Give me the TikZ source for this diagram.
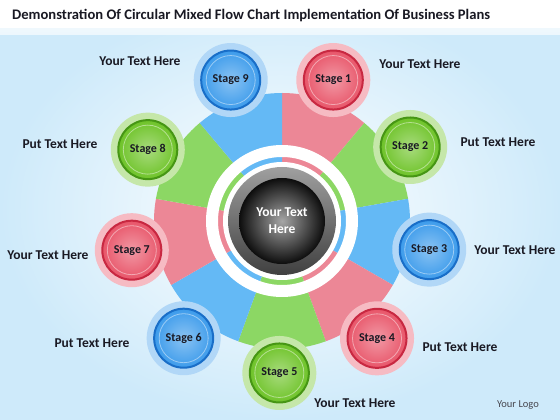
\documentclass[tikz,border=0pt]{standalone}
\usepackage{fontspec}
\setmainfont{Carlito}
\usetikzlibrary{shapes}

\definecolor{bg_blue}{RGB}{206,234,250}
\definecolor{r_dark}{RGB}{200,40,65}
\definecolor{r_mid}{RGB}{232,85,105}
\definecolor{r_wedge}{RGB}{236,135,150}
\definecolor{g_dark}{RGB}{70,150,20}
\definecolor{g_mid}{RGB}{110,195,40}
\definecolor{g_wedge}{RGB}{140,215,100}
\definecolor{b_dark}{RGB}{25,110,200}
\definecolor{b_mid}{RGB}{60,155,235}
\definecolor{b_wedge}{RGB}{100,185,245}
\definecolor{txt_dark}{RGB}{25,25,35}

\tikzset{
	stagenode/.style = {
		circle,
		inner sep=0pt,
		minimum size=59pt,
		line width=2pt,
		text=txt_dark,
		font=\bfseries\fontsize{12}{14}\selectfont,
		path picture={
			\draw[white, opacity=0.45, line width=0.8pt]
				(path picture bounding box.center) circle[radius=24.5pt];
		}
	},
	node_r/.style = {
		stagenode,
		draw=r_dark,
		inner color=r_mid!60!white,
		outer color=r_mid
	},
	node_g/.style = {
		stagenode,
		draw=g_dark,
		inner color=g_mid!60!white,
		outer color=g_mid
	},
	node_b/.style = {
		stagenode,
		draw=b_dark,
		inner color=b_mid!60!white,
		outer color=b_mid
	},
	halo_r/.style = {fill=r_mid!40!white},
	halo_g/.style = {fill=g_mid!40!white},
	halo_b/.style = {fill=b_mid!40!white},
	labelnode/.style = {
		inner sep=0pt,
		text=txt_dark,
		font=\bfseries\fontsize{13.5}{16}\selectfont
	},
}

\begin{document}
\begin{tikzpicture}[x=1pt,y=1pt]
\useasboundingbox (0,0) rectangle (560,420);
% background
\shade[inner color=white, outer color=bg_blue] (0,0) rectangle (560,420);
\shade[top color=white, bottom color=white!60!bg_blue] (0,385) rectangle (560,420);
\fill[white] (0,392) rectangle (560,420);

\node[anchor=west, inner sep=0pt, text=txt_dark, font=\bfseries\fontsize{14.6}{17}\selectfont]
	(title) at (12,404) {Demonstration Of Circular Mixed Flow Chart Implementation Of Business Plans};

\begin{scope}[shift={(282,199)}]
% wedges
\fill[r_wedge] (0,0) -- (50:128) arc[start angle=50, end angle=90, radius=128] -- cycle;
\fill[g_wedge] (0,0) -- (10:128) arc[start angle=10, end angle=50, radius=128] -- cycle;
\fill[b_wedge] (0,0) -- (-30:128) arc[start angle=-30, end angle=10, radius=128] -- cycle;
\fill[r_wedge] (0,0) -- (-70:128) arc[start angle=-70, end angle=-30, radius=128] -- cycle;
\fill[g_wedge] (0,0) -- (-110:128) arc[start angle=-110, end angle=-70, radius=128] -- cycle;
\fill[b_wedge] (0,0) -- (-150:128) arc[start angle=-150, end angle=-110, radius=128] -- cycle;
\fill[r_wedge] (0,0) -- (-190:128) arc[start angle=-190, end angle=-150, radius=128] -- cycle;
\fill[g_wedge] (0,0) -- (130:128) arc[start angle=130, end angle=170, radius=128] -- cycle;
\fill[b_wedge] (0,0) -- (90:128) arc[start angle=90, end angle=130, radius=128] -- cycle;

% centre rings
\fill[white, even odd rule] (0,0) circle[radius=76] (0,0) circle[radius=64];
\fill[white] (0,0) circle[radius=59];
\shade[top color=gray!75, bottom color=black!75] (0,0) circle[radius=54];
\shade[inner color=gray!70, outer color=black!95] (0,0) circle[radius=43];
\node[align=center, text=white, font=\bfseries\fontsize{13.5}{17}\selectfont]
	(centre) at (0,0) {Your Text\\Here};

% halos
\fill[halo_r] (70:150) circle[radius=37];
\fill[halo_g] (30:148) circle[radius=37];
\fill[halo_b] (-11:150) circle[radius=37];
\fill[halo_r] (-51:151) circle[radius=37];
\fill[halo_g] (-91:152) circle[radius=37];
\fill[halo_b] (-130:153) circle[radius=37];
\fill[halo_r] (-169:153) circle[radius=37];
\fill[halo_g] (152:152) circle[radius=37];
\fill[halo_b] (110:150) circle[radius=37];

% stages
\node[node_r] (stage1) at (70:150) {Stage 1};
\node[node_g] (stage2) at (30:148) {Stage 2};
\node[node_b] (stage3) at (-11:150) {Stage 3};
\node[node_r] (stage4) at (-51:151) {Stage 4};
\node[node_g] (stage5) at (-91:152) {Stage 5};
\node[node_b] (stage6) at (-130:153) {Stage 6};
\node[node_r] (stage7) at (-169:153) {Stage 7};
\node[node_g] (stage8) at (152:152) {Stage 8};
\node[node_b] (stage9) at (110:150) {Stage 9};
\end{scope}

% texts
\node[labelnode] (text1) at (420,356) {Your Text Here};
\node[labelnode] (text2) at (498,278) {Put Text Here};
\node[labelnode] (text3) at (515,170) {Your Text Here};
\node[labelnode] (text4) at (460,73) {Put Text Here};
\node[labelnode] (text5) at (355,17) {Your Text Here};
\node[labelnode] (text6) at (92,77) {Put Text Here};
\node[labelnode] (text7) at (48,165) {Your Text Here};
\node[labelnode] (text8) at (60,276) {Put Text Here};
\node[labelnode] (text9) at (140,359) {Your Text Here};

\node[text=txt_dark!80, font=\fontsize{10.5}{12}\selectfont] (logo) at (518,15) {Your Logo};
\end{tikzpicture}
\end{document}
